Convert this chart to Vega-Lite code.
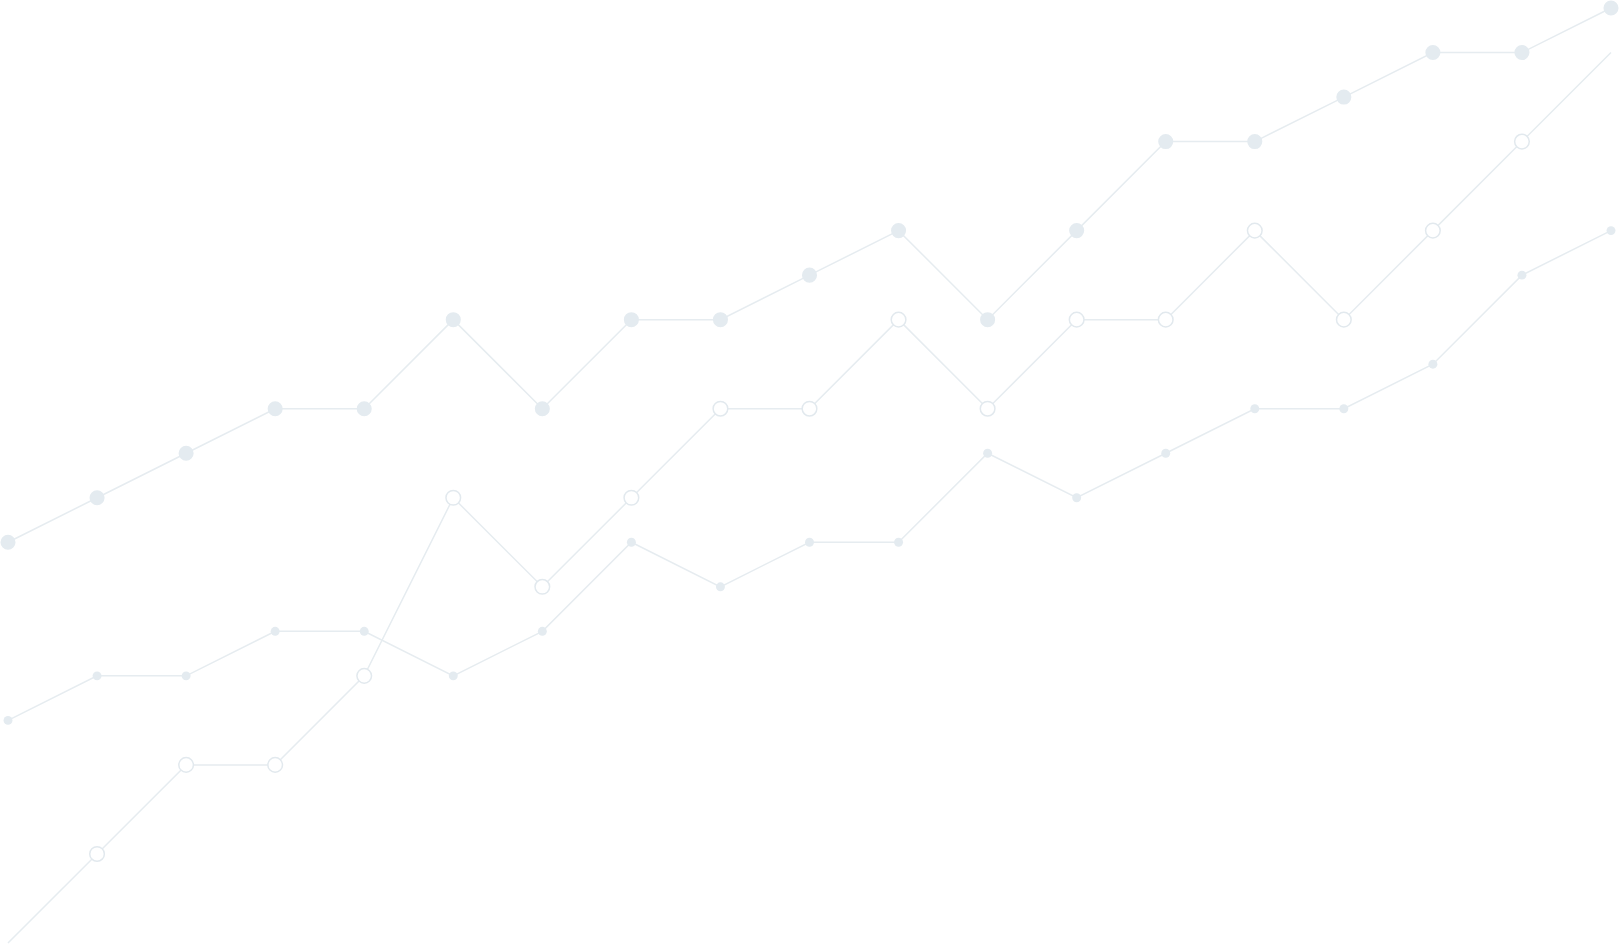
{
  "$schema": "https://vega.github.io/schema/vega-lite/v6.json",
  "width": 1603,
  "height": 935,
  "autosize": {"type": "none"},
  "padding": {"left": 8, "top": 8, "right": 9, "bottom": 1},
  "background": "white",
  "config": {"view": {"stroke": null}},
  "datasets": {
    "a": [
      {"i":0,"v":9},{"i":1,"v":10},{"i":2,"v":11},{"i":3,"v":12},{"i":4,"v":12},{"i":5,"v":14},{"i":6,"v":12},{"i":7,"v":14},{"i":8,"v":14},{"i":9,"v":15},{"i":10,"v":16},{"i":11,"v":14},{"i":12,"v":16},{"i":13,"v":18},{"i":14,"v":18},{"i":15,"v":19},{"i":16,"v":20},{"i":17,"v":20},{"i":18,"v":21}
    ],
    "b": [
      {"i":0,"v":0},{"i":1,"v":2},{"i":2,"v":4},{"i":3,"v":4},{"i":4,"v":6},{"i":5,"v":10},{"i":6,"v":8},{"i":7,"v":10},{"i":8,"v":12},{"i":9,"v":12},{"i":10,"v":14},{"i":11,"v":12},{"i":12,"v":14},{"i":13,"v":14},{"i":14,"v":16},{"i":15,"v":14},{"i":16,"v":16},{"i":17,"v":18},{"i":18,"v":20}
    ],
    "c": [
      {"i":0,"v":5},{"i":1,"v":6},{"i":2,"v":6},{"i":3,"v":7},{"i":4,"v":7},{"i":5,"v":6},{"i":6,"v":7},{"i":7,"v":9},{"i":8,"v":8},{"i":9,"v":9},{"i":10,"v":9},{"i":11,"v":11},{"i":12,"v":10},{"i":13,"v":11},{"i":14,"v":12},{"i":15,"v":12},{"i":16,"v":13},{"i":17,"v":15},{"i":18,"v":16}
    ]
  },
  "encoding": {
    "x": {"field": "i", "type": "quantitative", "scale": {"domain": [0, 18], "nice": false, "zero": false}, "axis": null},
    "y": {"field": "v", "type": "quantitative", "scale": {"domain": [0, 21], "nice": false, "zero": false}, "axis": null}
  },
  "layer": [
    {"data": {"name": "c"}, "mark": {"type": "line", "stroke": "#e6ecf0", "strokeWidth": 1.5}},
    {"data": {"name": "c"}, "mark": {"type": "circle", "fill": "#e4ebf0", "opacity": 1, "size": 80}},
    {"data": {"name": "b"}, "mark": {"type": "line", "stroke": "#e6ecf0", "strokeWidth": 1.5}},
    {"data": {"name": "b"}, "transform": [{"filter": "datum.i > 0 && datum.i < 18"}], "mark": {"type": "point", "shape": "circle", "filled": false, "fill": "white", "fillOpacity": 1, "stroke": "#e2e9ee", "strokeWidth": 1.5, "opacity": 1, "size": 214}},
    {"data": {"name": "a"}, "mark": {"type": "line", "stroke": "#e6ecf0", "strokeWidth": 1.5}},
    {"data": {"name": "a"}, "mark": {"type": "circle", "fill": "#e4ebf0", "opacity": 1, "size": 227}}
  ]
}
